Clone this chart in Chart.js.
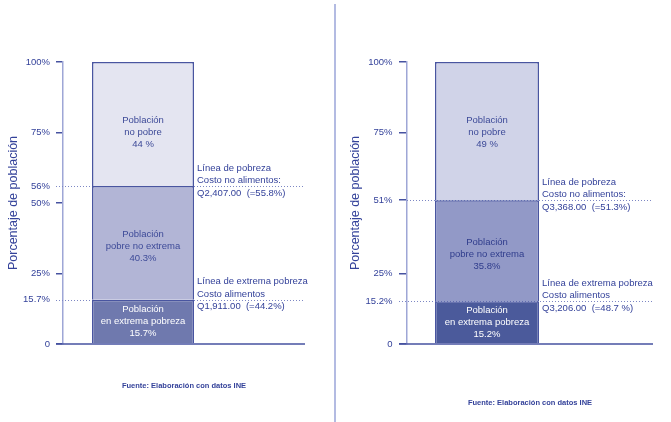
<!DOCTYPE html>
<html><head><meta charset="utf-8">
<script src="https://cdn.jsdelivr.net/npm/chart.js@4.4.1/dist/chart.umd.min.js"></script>
<style>
html,body{margin:0;padding:0;background:#fff;}
#wrap{position:relative;width:671px;height:422px;overflow:hidden;background:#fff;}
#c1{position:absolute;left:0;top:0;}
#c2{position:absolute;left:335px;top:0;}
#sep{position:absolute;left:334px;top:4px;width:1.5px;height:418px;background:#b3bbe2;}
</style></head><body>
<div id="wrap"><canvas id="c1" width="334" height="422"></canvas><div id="sep"></div><canvas id="c2" width="336" height="422"></canvas></div>
<script>
// ---- data ----
const categories = [''];
const segmentNames = [['Población', 'en extrema pobreza'], ['Población', 'pobre no extrema'], ['Población', 'no pobre']];
const leftValues = [15.7, 40.3, 44];
const rightValues = [15.2, 35.8, 49];
const leftValueLabels = ['15.7%', '40.3%', '44 %'];
const rightValueLabels = ['15.2%', '35.8%', '49 %'];
const leftTicks = [0, 15.7, 25, 50, 56, 75, 100];
const leftTickLabels = ['0', '15.7%', '25%', '50%', '56%', '75%', '100%'];
const rightTicks = [0, 15.2, 25, 51, 75, 100];
const rightTickLabels = ['0', '15.2%', '25%', '51%', '75%', '100%'];
const leftPovertyNote = ['Línea de pobreza', 'Costo no alimentos:', 'Q2,407.00  (=55.8%)'];
const leftExtremeNote = ['Línea de extrema pobreza', 'Costo alimentos', 'Q1,911.00  (=44.2%)'];
const rightPovertyNote = ['Línea de pobreza', 'Costo no alimentos:', 'Q3,368.00  (=51.3%)'];
const rightExtremeNote = ['Línea de extrema pobreza', 'Costo alimentos', 'Q3,206.00  (=48.7 %)'];
const yTitle = 'Porcentaje de población';
const sourceNote = 'Fuente: Elaboración con datos INE';

const FONT = '"Liberation Sans", Arial, Helvetica, sans-serif';
const TEXT = '#34429a';

function makeChart(id, p) {
  const extremeLine = p.values[0];
  const povertyLine = p.values[0] + p.values[1];
  const overlay = {
    id: 'overlay',
    beforeDatasetsDraw(chart) {
      const y = chart.scales.y, ctx = chart.ctx, a = chart.chartArea;
      ctx.save();
      ctx.strokeStyle = '#7d87c4';
      ctx.lineWidth = 1;
      ctx.setLineDash([1, 2]);
      [povertyLine, extremeLine].forEach(v => {
        const py = Math.round(y.getPixelForValue(v)) + 0.5;
        ctx.beginPath();
        ctx.moveTo(a.left - p.tickLen + (p.solidTicks.includes(v) ? p.tickLen : 0), py);
        ctx.lineTo(p.lineEnd, py);
        ctx.stroke();
      });
      ctx.restore();
    },
    afterDatasetsDraw(chart) {
      const y = chart.scales.y, ctx = chart.ctx, a = chart.chartArea;
      ctx.save();
      // baseline
      const by = y.getPixelForValue(0);
      ctx.strokeStyle = '#4652a0';
      ctx.lineWidth = 1.5;
      ctx.beginPath();
      ctx.moveTo(a.left - p.tickLen, by);
      ctx.lineTo(p.lineEnd, by);
      ctx.stroke();
      // bar labels
      ctx.font = '9.5px ' + FONT;
      ctx.textAlign = 'center';
      ctx.textBaseline = 'middle';
      let right = 0;
      chart.data.datasets.forEach((ds, i) => {
        const bar = chart.getDatasetMeta(i).data[0];
        right = bar.x + bar.width / 2;
        let cy = (bar.y + bar.base) / 2;
        if (i === 2) cy = y.getPixelForValue(75);
        if (i === 1) cy += 3.5;
        const lines = segmentNames[i].concat([p.valueLabels[i]]);
        ctx.fillStyle = p.labelColors[i];
        lines.forEach((t, k) => ctx.fillText(t, bar.x, cy + (k - 1) * 12));
      });
      // notes
      ctx.textAlign = 'left';
      ctx.fillStyle = TEXT;
      [[povertyLine, p.povertyNote], [extremeLine, p.extremeNote]].forEach(([v, lines]) => {
        const cy = y.getPixelForValue(v) - 5.5;
        lines.forEach((t, k) => ctx.fillText(t, right + 3, cy + (k - 1) * 12.6));
      });
      // source
      ctx.font = 'bold 7.5px ' + FONT;
      ctx.textAlign = 'center';
      ctx.fillText(sourceNote, p.footX, p.footY);
      ctx.restore();
    }
  };

  return new Chart(document.getElementById(id), {
    type: 'bar',
    data: {
      labels: categories,
      datasets: p.values.map((v, i) => ({
        label: segmentNames[i].join(' '),
        data: [v],
        backgroundColor: p.colors[i],
        borderColor: '#4955a0',
        borderWidth: 1.5,
        borderSkipped: 'start',
        categoryPercentage: 1,
        barPercentage: p.barPct
      }))
    },
    options: {
      responsive: false,
      animation: false,
      layout: { padding: { top: 62, bottom: 78, left: 0, right: p.padRight } },
      plugins: { legend: { display: false }, tooltip: { enabled: false } },
      scales: {
        x: { stacked: true, display: false },
        y: {
          stacked: true, min: 0, max: 100,
          afterBuildTicks: s => { s.ticks = p.ticks.map(v => ({ value: v })); },
          afterFit: s => { s.width = p.axisX; },
          border: { display: true, color: '#9ea6d6', width: 1.5 },
          grid: {
            display: true, drawOnChartArea: false, drawTicks: true, tickLength: p.tickLen, lineWidth: 1.5,
            color: c => (p.ticks.includes(c.tick && c.tick.value) && !p.dottedNoTick.includes(c.tick.value)) ? '#4652a0' : 'rgba(0,0,0,0)'
          },
          ticks: {
            autoSkip: false, padding: p.tickPad, color: TEXT,
            font: { size: 9.5, family: FONT },
            callback: (v, i) => p.tickLabels[i]
          },
          title: {
            display: true, text: yTitle, color: TEXT,
            font: { size: 12.5, family: FONT },
            padding: { top: p.titlePad, bottom: 0 }
          }
        }
      }
    },
    plugins: [overlay]
  });
}

makeChart('c1', {
  values: leftValues, valueLabels: leftValueLabels, ticks: leftTicks, tickLabels: leftTickLabels,
  povertyNote: leftPovertyNote, extremeNote: leftExtremeNote,
  colors: ['#6f79ae', '#b2b5d6', '#e4e5f1'],
  labelColors: ['#ffffff', '#3d4a98', '#3d4a98'],
  axisX: 63, tickLen: 7, tickPad: 6, padRight: 111, barPct: 0.6375, lineEnd: 305,
  titlePad: 6.5, footX: 184, footY: 386,
  dottedNoTick: [56, 15.7], solidTicks: []
});

makeChart('c2', {
  values: rightValues, valueLabels: rightValueLabels, ticks: rightTicks, tickLabels: rightTickLabels,
  povertyNote: rightPovertyNote, extremeNote: rightExtremeNote,
  colors: ['#4b5a9b', '#9299c7', '#d0d3e8'],
  labelColors: ['#ffffff', '#2f3c8c', '#3d4a98'],
  axisX: 72, tickLen: 8, tickPad: 6.5, padRight: 104, barPct: 0.65, lineEnd: 318,
  titlePad: 13.5, footX: 195, footY: 403,
  dottedNoTick: [15.2], solidTicks: [51]
});
</script>
</body></html>
